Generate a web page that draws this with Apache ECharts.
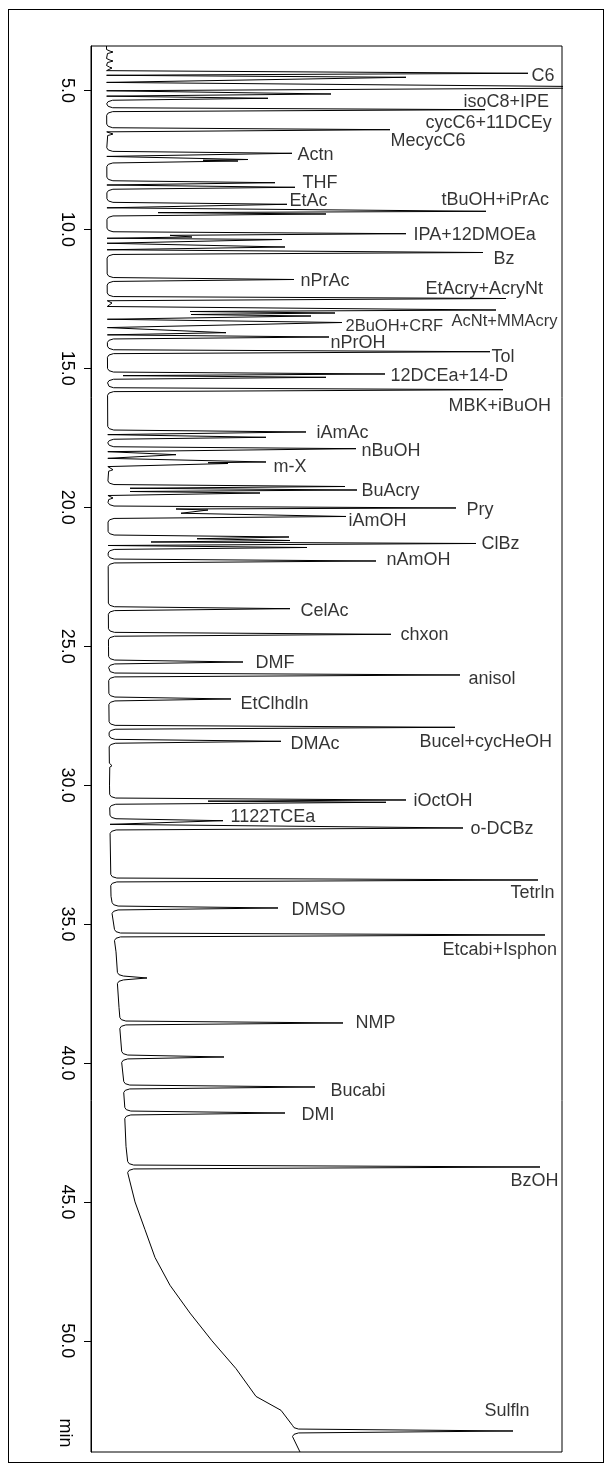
<!DOCTYPE html>
<html><head><meta charset="utf-8">
<script src="https://cdn.jsdelivr.net/npm/echarts@6/dist/echarts.min.js"></script>
<style>
html,body{margin:0;padding:0;background:#fff;}
#frame{position:absolute;left:8px;top:9px;width:596px;height:1454px;border:1px solid #000;box-sizing:border-box;}
#chart{position:absolute;left:0;top:0;width:612px;height:1471px;}
</style></head><body>
<div id="frame"></div>
<div id="chart"></div>
<script>
// ---- data (retention time in min, detector signal in arbitrary units) ----
const peakTimes = [3.616,3.940,4.192,4.382,4.526,4.894,5.127,5.282,5.692,6.412,6.567,7.262,7.485,7.539,8.320,8.485,9.097,9.349,9.446,10.155,10.274,10.364,10.634,10.832,11.803,12.487,12.649,12.901,13.009,13.117,13.351,13.718,13.873,14.402,15.204,15.323,15.769,17.291,17.482,17.892,18.108,18.371,18.425,18.648,19.253,19.379,19.487,19.667,20.026,20.099,20.332,21.070,21.196,21.304,21.448,21.934,23.650,24.572,25.569,26.036,26.900,27.919,28.423,29.301,30.535,30.618,31.280,31.543,33.414,34.422,35.393,36.941,38.560,39.784,40.864,41.800,43.743,53.244];
const peakHeights = [22,22,21,437,315,600,240,177,394,299,22,201,157,147,184,204,196,395,235,315,101,191,194,392,203,415,21,405,244,220,251,135,238,399,294,235,412,215,175,265,85,175,137,22,254,266,169,22,365,117,255,198,199,385,216,285,199,300,152,369,140,364,190,21,315,295,132,372,447,187,454,56,252,133,224,194,449,422];
const peakValleys = [null,null,null,null,null,null,null,null,null,null,null,null,null,112,null,null,null,null,67,null,79,null,null,null,null,null,null,null,99,100,null,null,null,null,null,32,null,null,null,null,null,null,117,null,null,39,39,null,null,85,90,null,106,60,null,null,null,null,null,null,null,null,null,null,null,117,null,null,null,null,null,null,null,null,null,null,null,null];
const baselineTimes  = [3.4,10,20,25,30,34,36,38,40,41,43,43.9,45,46,47,48,49,50,51,52,52.5,53.15,53.4,54];
const baselineLevels = [15.5,16,17,17.5,18.5,20,25,28,31,33,35,37,44,54,64,79,99,121,145,165,190,200,204,209];
const labelNames = ['C6','isoC8+IPE','cycC6+11DCEy','MecycC6','Actn','THF','EtAc','tBuOH+iPrAc','IPA+12DMOEa','Bz','nPrAc','EtAcry+AcryNt','AcNt+MMAcry','2BuOH+CRF','nPrOH','Tol','12DCEa+14-D','MBK+iBuOH','iAmAc','nBuOH','m-X','BuAcry','Pry','iAmOH','ClBz','nAmOH','CelAc','chxon','DMF','anisol','EtClhdln','Bucel+cycHeOH','DMAc','iOctOH','1122TCEa','o-DCBz','Tetrln','DMSO','Etcabi+Isphon','NMP','Bucabi','DMI','BzOH','Sulfln'];
const labelTimes = [4.382,5.692,5.692,6.412,7.262,8.485,9.097,9.349,10.155,10.832,11.803,12.487,12.901,13.351,13.873,14.402,15.204,15.769,17.291,17.892,18.371,19.379,20.026,20.332,21.304,21.934,23.650,24.572,25.569,26.036,26.900,27.919,28.423,30.535,31.280,31.543,33.414,34.422,35.393,38.560,40.864,41.800,43.743,53.244];
const timeTicks = [5,10,15,20,25,30,35,40,45,50];

// ---- label placement (style) ----
const labelOffsets = {
  'C6':[3,2.4],'isoC8+IPE':[-22,-7.7],'cycC6+11DCEy':[-60,13.6],'MecycC6':[0,11.6],'Actn':[5,2],
  'THF':[7,-4],'EtAc':[2,-3.3],'tBuOH+iPrAc':[-45,-11],'IPA+12DMOEa':[7,1],'Bz':[10,6.8],
  'nPrAc':[6,1.5],'EtAcry+AcryNt':[-81,-9.8],'AcNt+MMAcry':[-45,11.7],'2BuOH+CRF':[3,3.5],
  'nPrOH':[1,5.7],'Tol':[1,5],'12DCEa+14-D':[5,2],'MBK+iBuOH':[-55,16.3],'iAmAc':[10,1],
  'nBuOH':[5,2.6],'m-X':[7,5.3],'BuAcry':[4,1.3],'Pry':[10,1.7],'iAmOH':[2,4.8],'ClBz':[5,0.5],
  'nAmOH':[10,-1],'CelAc':[10,2],'chxon':[9,1],'DMF':[12,0.7],'anisol':[8,4],'EtClhdln':[9,5],
  'Bucel+cycHeOH':[-36,15],'DMAc':[9,2.7],'iOctOH':[7,1.3],'1122TCEa':[7,-3.4],'o-DCBz':[7,1],
  'Tetrln':[-28,13],'DMSO':[13,2],'Etcabi+Isphon':[-103,15],'NMP':[12,0],'Bucabi':[15,4],
  'DMI':[16,2],'BzOH':[-30,14],'Sulfln':[-29,-20]
};
const smallFont = {'AcNt+MMAcry':16.5,'2BuOH+CRF':16.5};
const FONT = '"Liberation Sans", Arial, Helvetica, sans-serif';

// ---- build trace from peaks and baseline ----
function baseAt(t){
  if (t <= baselineTimes[0]) return baselineLevels[0];
  for (let i=1;i<baselineTimes.length;i++){
    if (t <= baselineTimes[i]){
      const a=baselineTimes[i-1], b=baselineTimes[i];
      return baselineLevels[i-1] + (baselineLevels[i]-baselineLevels[i-1])*(t-a)/(b-a);
    }
  }
  return baselineLevels[baselineLevels.length-1];
}
const n = peakTimes.length;
const widthOf = i => (peakHeights[i] - baseAt(peakTimes[i]) < 15 ? 0.09 : 0.2);
const pts = [];
for (let i=0;i<n;i++){
  const t = peakTimes[i], h = peakHeights[i], b = baseAt(t), d = h-b, w = widthOf(i);
  const prevOpen = i===0 || (t-peakTimes[i-1]) >= w + widthOf(i-1);
  const nextOpen = i===n-1 || (peakTimes[i+1]-t) >= w + widthOf(i+1);
  if (prevOpen){
    pts.push([b, t-w]);
    pts.push([b+Math.min(1.5,0.15*d), t-0.6*w]);
    pts.push([b+Math.min(6,0.55*d), t-0.35*w]);
  }
  pts.push([h, t]);
  if (nextOpen){
    pts.push([b+Math.min(6,0.55*d), t+0.35*w]);
    pts.push([b+Math.min(1.5,0.15*d), t+0.6*w]);
    pts.push([b, t+w]);
  } else {
    const tm = (t + peakTimes[i+1])/2;
    const v = peakValleys[i+1];
    pts.push([v==null ? baseAt(tm) : v, tm]);
  }
}
for (let j=0;j<baselineTimes.length;j++){
  const t = baselineTimes[j];
  if (peakTimes.every((p,i) => Math.abs(p-t) > widthOf(i)+0.01)) pts.push([baselineLevels[j], t]);
}
pts.sort((a,b)=>a[1]-b[1]);

const labelData = labelNames.map((name,i)=>{
  const idx = peakTimes.indexOf(labelTimes[i]);
  const off = labelOffsets[name] || [5,0];
  return {
    name: name,
    value: [peakHeights[idx], labelTimes[i]],
    label: { offset: off, fontSize: smallFont[name] || 18 }
  };
});

const chart = echarts.init(document.getElementById('chart'), null, {renderer:'canvas'});
chart.setOption({
  animation: false,
  backgroundColor: 'transparent',
  grid: { left: 91, top: 46, width: 471, height: 1406, show: true, borderColor: '#000', borderWidth: 1, backgroundColor: 'transparent' },
  xAxis: { type: 'value', min: 0, max: 471, show: false },
  yAxis: {
    type: 'value', inverse: true, min: 3.4, max: 54,
    axisLine: { show: true, lineStyle: { color: '#000', width: 1 } },
    axisTick: { show: true, length: 7, customValues: timeTicks, lineStyle: { color: '#000', width: 1 } },
    axisLabel: { show: true, customValues: timeTicks, rotate: -90, margin: 15, fontSize: 18, color: '#000', fontFamily: FONT,
      formatter: v => v.toFixed(1) },
    splitLine: { show: false }
  },
  graphic: [{
    type: 'text', x: 65, y: 1433, rotation: -Math.PI/2,
    style: { text: 'min', font: '18px ' + FONT, fill: '#000', textAlign: 'center', textVerticalAlign: 'middle' }
  }],
  series: [
    { type: 'line', data: pts, showSymbol: false, symbol: 'none', clip: true, sampling: null,
      lineStyle: { color: '#000', width: 1 }, silent: true, z: 2 },
    { type: 'scatter', data: labelData, symbolSize: 1, itemStyle: { color: 'rgba(0,0,0,0)' }, silent: true, clip: false, z: 3,
      label: { show: true, position: 'right', distance: 0, formatter: p => p.name, color: '#000', fontFamily: FONT, fontSize: 18 } }
  ]
});
</script></body></html>
